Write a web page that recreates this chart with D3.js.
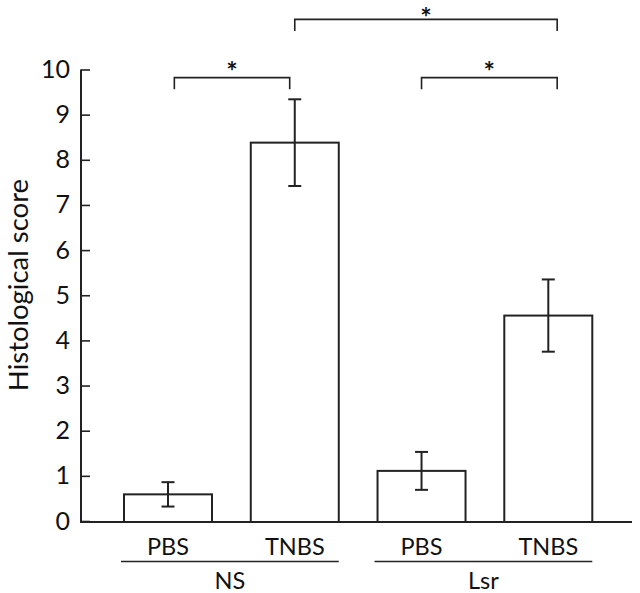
<!DOCTYPE html>
<html>
<head>
<meta charset="utf-8">
<script src="https://d3js.org/d3.v7.min.js"></script>
<style>
  body { margin: 0; background: #fff; }
  text { font-family: Lato, "Noto Sans", sans-serif; fill: #111; }
</style>
</head>
<body>
<div id="chart"></div>
<script>
// data
var treatments = ["PBS", "TNBS", "PBS", "TNBS"];
var groups = ["NS", "Lsr"];
var groupOf = [0, 0, 1, 1];
var means = [0.59, 8.38, 1.11, 4.55];
var errs = [0.27, 0.96, 0.42, 0.80];
var yTicks = [0, 1, 2, 3, 4, 5, 6, 7, 8, 9, 10];
// significance brackets: [from index, to index, level]
var brackets = [[0.05, 0.96, 9.82], [2.0, 3.07, 9.82], [1.0, 3.07, 11.11]];

const width = 640;
const height = 593;
const barW = 88;
const starSize = 27;

const svg = d3.select("#chart").append("svg")
    .attr("width", width)
    .attr("height", height);

var x = d3.scaleLinear().domain([0, 3]).range([168, 548.3]);
var y = d3.scaleLinear().domain([0, 10]).range([521, 69.5]);

//-----------------------------AXES------------------------------//
var yaxis = d3.axisLeft(y)
    .tickValues(yTicks)
    .tickSize(-9)
    .tickPadding(11)
    .tickFormat(d3.format("d"));

var gy = svg.append("g")
    .attr("transform", "translate(81,0)")
    .call(yaxis);
gy.select(".domain").attr("stroke", "#222").attr("stroke-width", 2)
    .attr("d", "M0," + y(10) + "V" + (y(0) + 1));
gy.selectAll(".tick line").attr("stroke", "#222").attr("stroke-width", 1.6);
gy.selectAll(".tick text").style("font-size", "25px").attr("fill", "#111");

// baseline
svg.append("line")
    .attr("x1", 80).attr("x2", 632)
    .attr("y1", y(0) + 1).attr("y2", y(0) + 1)
    .attr("stroke", "#222").attr("stroke-width", 2);

svg.append("text")
    .attr("transform", "translate(28,285) rotate(-90)")
    .attr("text-anchor", "middle")
    .style("font-size", "27.5px")
    .text("Histological score");

//----------------------------BARS-------------------------------//
svg.selectAll("rect.bar")
    .data(means)
    .enter().append("rect")
    .attr("class", "bar")
    .attr("x", (d, i) => x(i) - barW / 2)
    .attr("y", d => y(d))
    .attr("width", barW)
    .attr("height", d => y(0) + 1 - y(d))
    .attr("fill", "#fff")
    .attr("stroke", "#222")
    .attr("stroke-width", 2);

var eb = svg.selectAll("g.err")
    .data(means)
    .enter().append("g")
    .attr("class", "err")
    .attr("stroke", "#222")
    .attr("stroke-width", 2);
eb.append("line")
    .attr("x1", (d, i) => x(i)).attr("x2", (d, i) => x(i))
    .attr("y1", (d, i) => y(d + errs[i])).attr("y2", (d, i) => y(d - errs[i]));
eb.append("line")
    .attr("x1", (d, i) => x(i) - 6.5).attr("x2", (d, i) => x(i) + 6.5)
    .attr("y1", (d, i) => y(d + errs[i])).attr("y2", (d, i) => y(d + errs[i]));
eb.append("line")
    .attr("x1", (d, i) => x(i) - 6.5).attr("x2", (d, i) => x(i) + 6.5)
    .attr("y1", (d, i) => y(d - errs[i])).attr("y2", (d, i) => y(d - errs[i]));

//---------------------------LABELS------------------------------//
svg.selectAll("text.cat")
    .data(treatments)
    .enter().append("text")
    .attr("class", "cat")
    .attr("x", (d, i) => x(i))
    .attr("y", 555)
    .attr("text-anchor", "middle")
    .style("font-size", "23.5px")
    .text(d => d);

groups.forEach(function(g, gi) {
    var idx = d3.range(treatments.length).filter(i => groupOf[i] === gi);
    var x1 = x(d3.min(idx)) - barW / 2 - 3;
    var x2 = x(d3.max(idx)) + barW / 2;
    svg.append("line")
        .attr("x1", x1).attr("x2", x2)
        .attr("y1", 561.5).attr("y2", 561.5)
        .attr("stroke", "#222").attr("stroke-width", 1.6);
    svg.append("text")
        .attr("x", (x1 + x2) / 2)
        .attr("y", 589)
        .attr("text-anchor", "middle")
        .style("font-size", "23.5px")
        .text(g);
});

//--------------------------BRACKETS-----------------------------//
var drop = 0.255;
brackets.forEach(function(b) {
    svg.append("path")
        .attr("fill", "none")
        .attr("stroke", "#222")
        .attr("stroke-width", 1.6)
        .attr("d", "M" + x(b[0]) + "," + y(b[2] - drop) +
                   "V" + y(b[2]) + "H" + x(b[1]) + "V" + y(b[2] - drop));
    svg.append("text")
        .attr("x", (x(b[0]) + x(b[1])) / 2)
        .attr("y", Math.max(y(b[2]) + 3, starSize))   // keep top star inside the frame
        .attr("text-anchor", "middle")
        .style("font-size", starSize + "px")
        .style("font-weight", "bold")
        .text("*");
});
</script>
</body>
</html>
